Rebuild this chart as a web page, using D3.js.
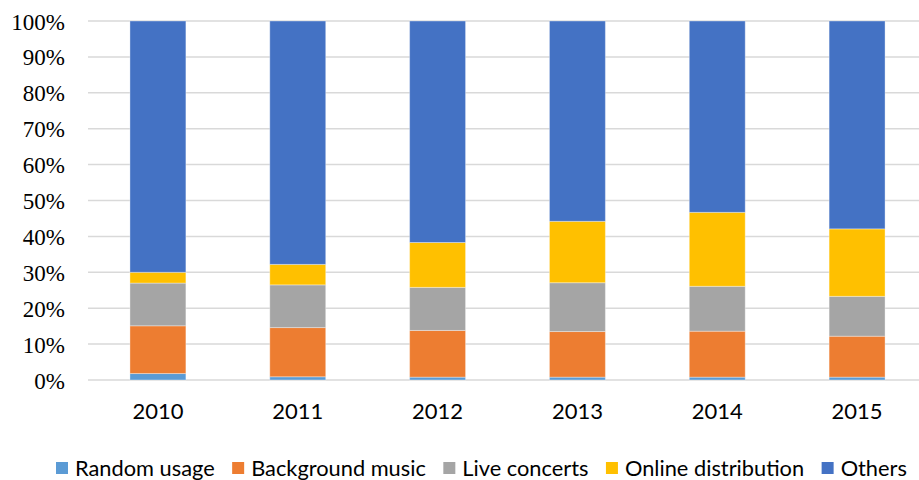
<!DOCTYPE html>
<html>
<head>
<meta charset="utf-8">
<script src="https://cdn.jsdelivr.net/npm/d3@7"></script>
<style>
  html, body { margin: 0; padding: 0; background: #fff; }
  svg { display: block; }
  .ylab { font-family: "Liberation Serif", "Times New Roman", Tinos, Times, "DejaVu Serif", "Noto Serif", serif !important; }
</style>
</head>
<body>
<svg id="chart" width="919" height="480"></svg>
<script>
const years = ["2010", "2011", "2012", "2013", "2014", "2015"];
const seriesNames = ["Random usage", "Background music", "Live concerts", "Online distribution", "Others"];
const randomUsage      = [1.8, 0.9, 0.8, 0.8, 0.8, 0.8];
const backgroundMusic  = [13.3, 13.7, 13.0, 12.7, 12.8, 11.4];
const liveConcerts     = [11.9, 11.9, 12.0, 13.6, 12.5, 11.1];
const onlineDistrib    = [3.0, 5.7, 12.5, 17.1, 20.6, 18.8];
const others           = [70.0, 67.8, 61.7, 55.8, 53.3, 57.9];
const yTicks = [0, 10, 20, 30, 40, 50, 60, 70, 80, 90, 100];
const colors = ["#5B9BD5", "#ED7D31", "#A5A5A5", "#FFC000", "#4472C4"];

const seriesValues = [randomUsage, backgroundMusic, liveConcerts, onlineDistrib, others];
const rows = years.map((yr, i) => {
  const r = { year: yr };
  seriesNames.forEach((s, k) => r[s] = seriesValues[k][i]);
  return r;
});
const stacked = d3.stack().keys(seriesNames).offset(d3.stackOffsetExpand)(rows);

const svg = d3.select("#chart");
const plotLeft = 88, plotRight = 927, plotTop = 21, plotBottom = 380;

const x = d3.scaleBand().domain(years).range([plotLeft, plotRight]).paddingInner(0.6).paddingOuter(0.3);
const y = d3.scaleLinear().domain([0, 1]).range([plotBottom, plotTop]);

// gridlines
svg.append("g")
  .selectAll("line").data(yTicks).join("line")
  .attr("x1", plotLeft).attr("x2", 919)
  .attr("y1", d => y(d / 100)).attr("y2", d => y(d / 100))
  .attr("stroke", "#D9D9D9").attr("stroke-width", 1.5);

// y axis labels
const yAxis = d3.axisLeft(y).tickValues(yTicks.map(d => d / 100))
  .tickFormat(d => Math.round(d * 100) + "%").tickSize(0).tickPadding(0);
const ga = svg.append("g").attr("transform", `translate(65,0)`).call(yAxis);
ga.attr("font-family", null).attr("font-size", null);
ga.select(".domain").remove();
ga.selectAll("text")
  .attr("class", "ylab")
  .attr("font-family", "Liberation Serif")
  .style("font-size", "23px").attr("fill", "#000").attr("dy", "0.35em");

// bars
svg.append("g").selectAll("g").data(stacked).join("g")
  .attr("fill", (d, i) => colors[i])
  .selectAll("rect").data(d => d).join("rect")
  .attr("x", d => x(d.data.year))
  .attr("width", x.bandwidth())
  .attr("y", d => y(d[1]))
  .attr("height", d => y(d[0]) - y(d[1]))
  .attr("stroke", "#ffffff").attr("stroke-opacity", 0.35).attr("stroke-width", 1);

// x axis labels
const xAxis = d3.axisBottom(x).tickSize(0).tickPadding(0);
const gx = svg.append("g").attr("transform", `translate(0,${plotBottom})`).call(xAxis);
gx.attr("font-family", null).attr("font-size", null);
gx.select(".domain").remove();
gx.selectAll("text")
  .style("font-family", "Lato, 'Open Sans', sans-serif")
  .style("font-size", "22px").attr("fill", "#000")
  .attr("y", 39).attr("dy", 0);

// legend
const legend = svg.append("g");
let cx = 56;
seriesNames.forEach((name, i) => {
  const g = legend.append("g");
  g.append("rect").attr("x", cx).attr("y", 462).attr("width", 12).attr("height", 12).attr("fill", colors[i]);
  const t = g.append("text").attr("x", cx + 19).attr("y", 476)
    .style("font-family", "Lato, 'Open Sans', sans-serif")
    .style("font-size", "21.8px").attr("fill", "#000").text(name);
  cx += 19 + t.node().getComputedTextLength() + 17.5;
});
</script>
</body>
</html>
